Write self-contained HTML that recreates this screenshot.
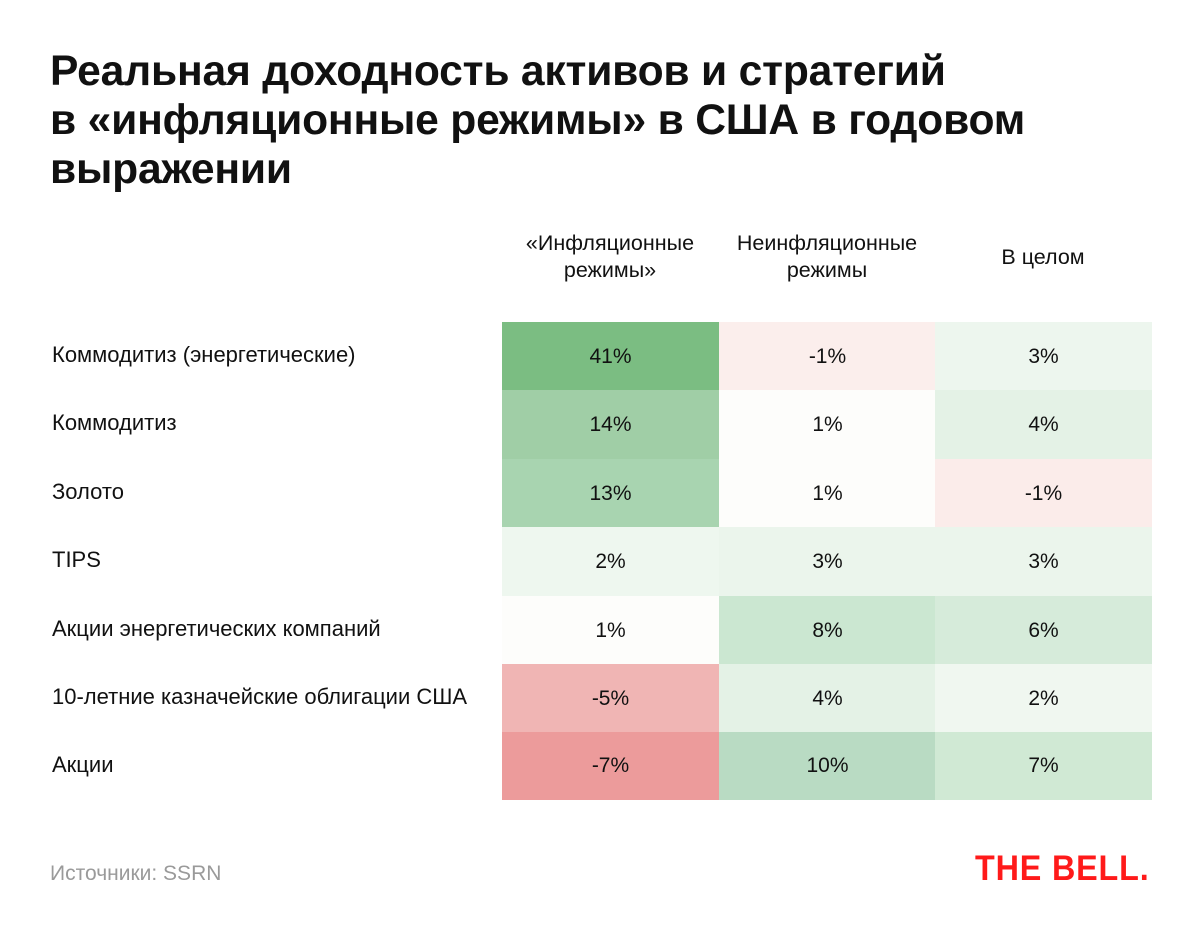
<!DOCTYPE html>
<html><head><meta charset="utf-8">
<style>
html,body{margin:0;padding:0;background:#fff;}
body{width:1200px;height:939px;position:relative;overflow:hidden;font-family:"Liberation Sans",Arial,sans-serif;color:#111;}
.t{position:absolute;left:50px;font-size:42.6px;font-weight:bold;line-height:42px;white-space:nowrap;letter-spacing:-0.2px;}
.h{position:absolute;width:216px;text-align:center;font-size:21.5px;line-height:27px;color:#111;white-space:nowrap;}
.lab{position:absolute;left:52px;font-size:22px;line-height:24px;white-space:nowrap;}
.c{position:absolute;width:217px;height:69px;line-height:69px;text-align:center;font-size:21px;}
</style></head><body>
<div class="t" style="top:50px">Реальная доходность активов и стратегий</div>
<div class="t" style="top:99px">в «инфляционные режимы» в США в годовом</div>
<div class="t" style="top:148px">выражении</div>

<div class="h" style="left:502px;top:230px">«Инфляционные<br>режимы»</div>
<div class="h" style="left:719px;top:230px">Неинфляционные<br>режимы</div>
<div class="h" style="left:935px;top:244px">В целом</div>

<div class="lab" style="top:343px">Коммодитиз (энергетические)</div>
<div class="lab" style="top:411px">Коммодитиз</div>
<div class="lab" style="top:480px">Золото</div>
<div class="lab" style="top:548px">TIPS</div>
<div class="lab" style="top:617px">Акции энергетических компаний</div>
<div class="lab" style="top:685px">10-летние казначейские облигации США</div>
<div class="lab" style="top:753px">Акции</div>

<div class="c" style="left:502px;top:322px;background:#7bbd82">41%</div>
<div class="c" style="left:719px;top:322px;background:#fbeeec">-1%</div>
<div class="c" style="left:935px;top:322px;background:#edf6ee">3%</div>

<div class="c" style="left:502px;top:390px;background:#a0cea6">14%</div>
<div class="c" style="left:719px;top:390px;background:#fdfdfb">1%</div>
<div class="c" style="left:935px;top:390px;background:#e4f2e6">4%</div>

<div class="c" style="left:502px;top:459px;background:#a8d4b0">13%</div>
<div class="c" style="left:719px;top:459px;background:#fdfdfb">1%</div>
<div class="c" style="left:935px;top:459px;background:#fbecea">-1%</div>

<div class="c" style="left:502px;top:527px;background:#eef7ef">2%</div>
<div class="c" style="left:719px;top:527px;background:#ebf5ec">3%</div>
<div class="c" style="left:935px;top:527px;background:#ebf5ec">3%</div>

<div class="c" style="left:502px;top:596px;background:#fdfdfb">1%</div>
<div class="c" style="left:719px;top:596px;background:#cbe7d1">8%</div>
<div class="c" style="left:935px;top:596px;background:#d6ebda">6%</div>

<div class="c" style="left:502px;top:664px;background:#f0b5b4">-5%</div>
<div class="c" style="left:719px;top:664px;background:#e4f2e6">4%</div>
<div class="c" style="left:935px;top:664px;background:#f0f7f0">2%</div>

<div class="c" style="left:502px;top:732px;height:68px;line-height:68px;background:#ec9b9b">-7%</div>
<div class="c" style="left:719px;top:732px;height:68px;line-height:68px;background:#b9dbc3">10%</div>
<div class="c" style="left:935px;top:732px;height:68px;line-height:68px;background:#d0e9d4">7%</div>

<div style="position:absolute;left:50px;top:862px;font-size:21px;line-height:24px;color:#9a9a9a;">Источники: SSRN</div>
<div style="position:absolute;left:975px;top:850px;font-size:38px;line-height:40px;font-weight:bold;color:#ff1a1a;letter-spacing:1px;white-space:nowrap;transform:scale(0.85,0.93);transform-origin:0 0;">THE BELL.</div>
</body></html>
